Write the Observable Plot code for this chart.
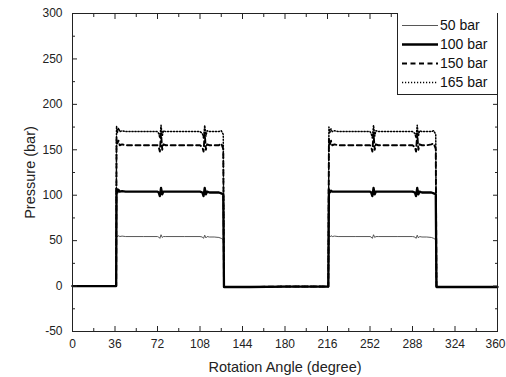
<!DOCTYPE html>
<html>
<head>
<meta charset="utf-8">
<script src="https://cdn.jsdelivr.net/npm/d3@7"></script>
<script src="https://cdn.jsdelivr.net/npm/@observablehq/plot@0.6"></script>
<style>
  html, body { margin: 0; padding: 0; background: #fff; }
  #wrap { position: relative; width: 506px; height: 377px; font-family: "Liberation Sans", Arial, sans-serif; }
  #legend { position: absolute; left: 397px; top: 13px; width: 99px; height: 81px; border: 1px solid #222; border-top: none; border-right: none; background: #fff; }
  .row { position: absolute; left: 0; height: 18px; width: 100%; }
  .row svg { position: absolute; left: 3px; top: 0; }
  .row span { position: absolute; left: 42px; top: 0; font-size: 14px; line-height: 18px; color: #111; }
</style>
</head>
<body>
<div id="wrap"></div>
<script>
// Rotation angle (degree) sample points shared by all series
const angles = [0, 37, 37.3, 38, 39, 40, 42, 45, 60, 72, 73, 74, 75, 76, 77, 79, 95, 108, 110, 111, 112, 113, 114, 116, 120, 124, 126, 127.7, 128.3, 130, 150, 180, 210, 216.7,
  217.2, 218, 219, 220, 222, 225, 240, 252, 253, 254, 255, 256, 257, 259, 275, 288, 290, 291, 292, 293, 294, 296, 300, 304, 306, 307.7, 308.3, 310, 330, 360];

// Pressure (bar) for each series
const p50 = [0, 0, 56, 54, 55.5, 54.5, 55, 54.5, 54.5, 54.5, 54, 52.5, 56.5, 53.5, 54.5, 54.5, 54.5, 54.5, 54, 52.5, 56, 53, 54.5, 54, 54, 53.5, 52.5, 51, -1, -1, -1, -0.5, -0.5, -0.5,
  56, 54, 55.5, 54.5, 55, 54.5, 54.5, 54.5, 54, 52.5, 56.5, 53.5, 54.5, 54.5, 54.5, 54.5, 54, 52.5, 56, 53, 54.5, 54, 54, 53.5, 52.5, 51, -1, -1, -1, -1];
const p100 = [0, 0, 107, 103, 106, 104, 104.5, 104, 104, 104, 103, 99, 108, 101, 104, 104, 104, 104, 103, 99, 108, 101, 104, 103, 103, 103, 102, 101, -1, -1, -1, -0.5, -0.5, -0.5,
  106, 103, 105, 104, 104, 104, 104, 104, 103, 99, 108, 101, 104, 104, 104, 104, 103, 99, 108, 101, 104, 103, 103, 103, 102, 101, -1, -1, -1, -1];
const p150 = [0, 0, 163, 157, 160, 155, 156, 155, 155, 155, 153, 148, 168, 150, 156, 155, 155, 155, 153, 148, 168, 150, 156, 155, 155, 155, 157, 151, -1, -1, -1, -0.5, -0.5, -0.5,
  162, 156, 160, 155, 156, 155, 155, 155, 153, 148, 168, 150, 156, 155, 155, 155, 153, 148, 168, 150, 156, 155, 155, 156, 157, 151, -1, -1, -1, -1];
const p165 = [0, 0, 176, 169, 174, 170, 171, 170, 170, 170, 168, 163, 177, 165, 171, 170, 170, 170, 168, 163, 177, 165, 171, 170, 170, 170, 171, 167, -1, -1, -1, -0.5, -0.5, -0.5,
  175, 169, 173, 170, 171, 170, 170, 170, 168, 163, 177, 165, 171, 170, 170, 170, 168, 163, 177, 165, 171, 170, 170, 170, 171, 167, -1, -1, -1, -1];

const seriesNames = ["50 bar", "100 bar", "150 bar", "165 bar"];
const xTicks = [0, 36, 72, 108, 144, 180, 216, 252, 288, 324, 360];
const xMinor = [18, 54, 90, 126, 162, 198, 234, 270, 306, 342];
const yTicks = [-50, 0, 50, 100, 150, 200, 250, 300];
const yMinor = [-25, 25, 75, 125, 175, 225, 275];

const styles = [
  {stroke: "#444", strokeWidth: 0.9},
  {stroke: "#000", strokeWidth: 2.3},
  {stroke: "#000", strokeWidth: 1.9, strokeDasharray: "5,3.5"},
  {stroke: "#000", strokeWidth: 1.5, strokeDasharray: "1.2,1.8"}
];
const values = [p50, p100, p150, p165];
const tables = values.map(v => angles.map((a, i) => ({angle: a, p: v[i]})));

const plain = d => String(d);
const tickOpts = {tickFormat: () => "", label: null};
const chart = Plot.plot({
  width: 506,
  height: 377,
  marginLeft: 72,
  marginRight: 9,
  marginTop: 13,
  marginBottom: 46,
  style: {fontFamily: "'Liberation Sans', Arial, sans-serif", fontSize: "12px", color: "#222", background: "#fff"},
  x: {domain: [0, 360]},
  y: {domain: [-50, 300]},
  marks: [
    ...tables.map((t, i) => Plot.line(t, {x: "angle", y: "p", ...styles[i]})),
    Plot.frame({stroke: "#222", strokeWidth: 1}),
    Plot.axisX(xTicks, {anchor: "bottom", tickSize: 0, tickPadding: 8, tickFormat: plain, label: "Rotation Angle (degree)", labelAnchor: "center", labelArrow: "none", labelOffset: 40, fontSize: 12}),
    Plot.axisX(xTicks, {anchor: "bottom", tickSize: -5, ...tickOpts}),
    Plot.axisX(xMinor, {anchor: "bottom", tickSize: -3, ...tickOpts}),
    Plot.axisX(xTicks, {anchor: "top", tickSize: -5, ...tickOpts}),
    Plot.axisX(xMinor, {anchor: "top", tickSize: -3, ...tickOpts}),
    Plot.axisY(yTicks, {anchor: "left", tickSize: 0, tickPadding: 10, tickFormat: plain, label: "Pressure (bar)", labelAnchor: "center", labelArrow: "none", labelOffset: 48, fontSize: 12}),
    Plot.axisY(yTicks, {anchor: "left", tickSize: -5, ...tickOpts}),
    Plot.axisY(yMinor, {anchor: "left", tickSize: -3, ...tickOpts}),
    Plot.axisY(yTicks, {anchor: "right", tickSize: -5, ...tickOpts}),
    Plot.axisY(yMinor, {anchor: "right", tickSize: -3, ...tickOpts})
  ]
});
// enlarge axis titles
chart.querySelectorAll("g[aria-label='x-axis label'] text, g[aria-label='y-axis label'] text").forEach(t => t.setAttribute("font-size", "14.5"));
// keep the last x tick label inside the picture
const xLabels = chart.querySelectorAll("g[aria-label='x-axis tick label'] text");
xLabels.forEach(t => { if (t.textContent === "360") t.setAttribute("dx", "-2"); });

const wrap = document.getElementById("wrap");
wrap.appendChild(chart);

// Legend
const legend = document.createElement("div");
legend.id = "legend";
seriesNames.forEach((name, i) => {
  const row = document.createElement("div");
  row.className = "row";
  row.style.top = (3 + i * 19) + "px";
  const s = styles[i];
  row.innerHTML = `<svg width="38" height="18"><line x1="1" x2="37" y1="9.5" y2="9.5" stroke="${s.stroke}" stroke-width="${s.strokeWidth}" ${s.strokeDasharray ? `stroke-dasharray="${s.strokeDasharray}"` : ""}/></svg><span>${name}</span>`;
  legend.appendChild(row);
});
wrap.appendChild(legend);
</script>
</body>
</html>
